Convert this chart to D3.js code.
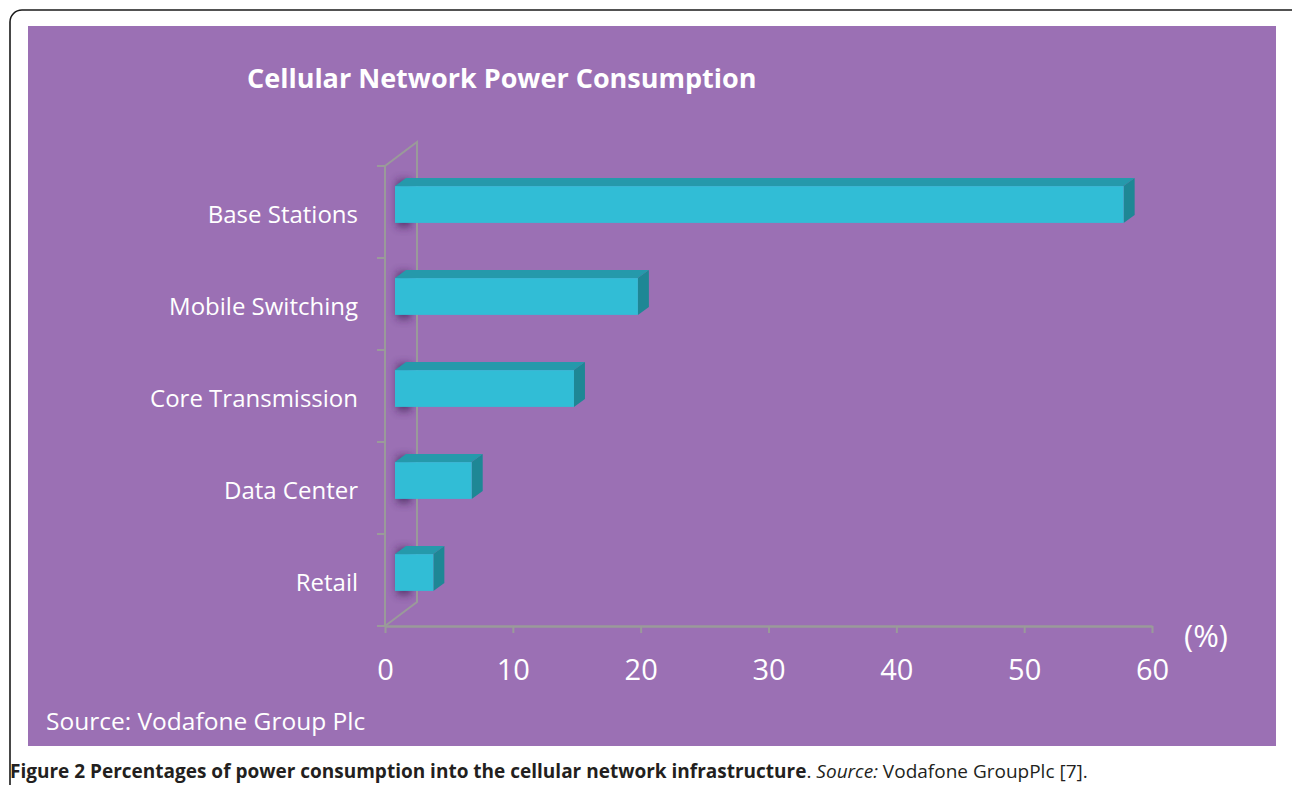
<!DOCTYPE html>
<html lang="en">
<head>
    <meta charset="UTF-8">
    <title>Cellular Network Power Consumption</title>
    <script src="https://d3js.org/d3.v7.min.js"></script>
    <style>
        body {margin:0;background:#fff;}
        svg text {font-family:"Open Sans", sans-serif;}
    </style>
</head>
<body>
    <div id="chart"></div>
    <script>
        var categories = ["Base Stations", "Mobile Switching", "Core Transmission", "Data Center", "Retail"];
        var values = [57, 19, 14, 6, 3];
        var xTicks = [0, 10, 20, 30, 40, 50, 60];

        var W = 1292, H = 785;
        var depth = {dx: 32, dy: -24};       // wall depth (front plane -> back plane)
        var barFront = {dx: 10, dy: -7.5};   // bar front face inside the depth
        var barDepth = {dx: 11, dy: -8};

        var svg = d3.select("#chart").append("svg")
            .attr("width", W).attr("height", H);

        var defs = svg.append("defs");
        defs.append("filter").attr("id", "blur")
            .attr("x", "-100%").attr("y", "-50%").attr("width", "300%").attr("height", "200%")
            .append("feGaussianBlur").attr("stdDeviation", 4);

        // frame + panel
        svg.append("rect")
            .attr("x", 10).attr("y", 10).attr("width", 1294).attr("height", 800)
            .attr("rx", 12)
            .attr("fill", "none").attr("stroke", "#1a1a1a").attr("stroke-width", 1.6);
        svg.append("rect")
            .attr("x", 28).attr("y", 26).attr("width", 1248).attr("height", 720)
            .attr("fill", "#9b70b4");

        var x = d3.scaleLinear().domain([0, 60]).range([385, 1152]);
        var y = d3.scaleBand().domain(categories).range([166, 626])
            .paddingInner(0.6).paddingOuter(0.3);
        var step = y.step();
        var y0 = 166, y1 = 626, x0 = x(0);
        var grey = "#9a9a9a";

        // back wall shadows
        svg.append("g").selectAll("rect")
            .data(values).enter().append("rect")
            .attr("x", x0 + barFront.dx + 2)
            .attr("y", (d, i) => y(categories[i]) + barFront.dy - 6)
            .attr("width", 14)
            .attr("height", y.bandwidth() + 10)
            .attr("fill", "#3c1f52")
            .attr("opacity", 0.75)
            .attr("filter", "url(#blur)");

        // side wall lines
        var wall = svg.append("g").attr("stroke", grey).attr("stroke-width", 2).attr("fill", "none");
        wall.append("path").attr("d", d3.line()([
            [x0, y1], [x0, y0], [x0 + depth.dx, y0 + depth.dy], [x0 + depth.dx, y1 + depth.dy], [x0, y1]
        ]));
        wall.selectAll("line.ct")
            .data(d3.range(categories.length + 1)).enter().append("line")
            .attr("x1", x0 - 8).attr("x2", x0)
            .attr("y1", i => y0 + i * step).attr("y2", i => y0 + i * step);

        // x axis
        var xAxis = svg.append("g")
            .attr("transform", `translate(0,${y1})`)
            .call(d3.axisBottom(x).tickValues(xTicks).tickSize(7).tickSizeOuter(0));
        xAxis.select(".domain").attr("stroke", grey).attr("stroke-width", 2.5);
        xAxis.selectAll(".tick line").attr("stroke", grey).attr("stroke-width", 2);
        xAxis.selectAll(".tick text")
            .attr("y", 54).attr("dy", 0)
            .attr("fill", "#fff")
            .style("font-family", "'Open Sans', sans-serif")
            .style("font-size", "29px");

        svg.append("text")
            .attr("x", 1206).attr("y", 647)
            .attr("text-anchor", "middle")
            .attr("fill", "#fff").style("font-size", "31px")
            .text("(%)");

        // category labels
        svg.append("g").selectAll("text")
            .data(categories).enter().append("text")
            .attr("x", 358)
            .attr("y", d => y(d) + y.bandwidth() / 2 + 3)
            .attr("dy", "0.35em")
            .attr("text-anchor", "end")
            .attr("fill", "#fff")
            .style("font-size", "24px")
            .text(d => d);

        // 3D bars
        var bars = svg.append("g").selectAll("g")
            .data(values).enter().append("g");
        function fx(v) { return x(v) + barFront.dx; }
        function fy(i) { return y(categories[i]) + barFront.dy; }
        var bh = y.bandwidth();
        // top face
        bars.append("path")
            .attr("d", (d, i) => d3.line()([
                [fx(0), fy(i)], [fx(d), fy(i)],
                [fx(d) + barDepth.dx, fy(i) + barDepth.dy],
                [fx(0) + barDepth.dx, fy(i) + barDepth.dy]
            ]) + "Z")
            .attr("fill", "#2599ab");
        // side face
        bars.append("path")
            .attr("d", (d, i) => d3.line()([
                [fx(d), fy(i)], [fx(d) + barDepth.dx, fy(i) + barDepth.dy],
                [fx(d) + barDepth.dx, fy(i) + barDepth.dy + bh],
                [fx(d), fy(i) + bh]
            ]) + "Z")
            .attr("fill", "#1e8795");
        // front face
        bars.append("rect")
            .attr("x", fx(0))
            .attr("y", (d, i) => fy(i))
            .attr("width", d => fx(d) - fx(0))
            .attr("height", bh)
            .attr("fill", "#31bdd6");

        // title and source
        svg.append("text")
            .attr("x", 247).attr("y", 88)
            .attr("fill", "#fff")
            .style("font-size", "27px").style("font-weight", "bold")
            .text("Cellular Network Power Consumption");

        svg.append("text")
            .attr("x", 46).attr("y", 730)
            .attr("fill", "#fff")
            .style("font-size", "24.5px")
            .text("Source: Vodafone Group Plc");

        // caption
        var cap = svg.append("text")
            .attr("x", 10).attr("y", 778)
            .attr("fill", "#231f20")
            .style("font-size", "19px");
        cap.append("tspan").style("font-weight", "bold")
            .text("Figure 2 Percentages of power consumption into the cellular network infrastructure");
        cap.append("tspan").text(". ");
        cap.append("tspan").style("font-style", "italic").text("Source:");
        cap.append("tspan").text(" Vodafone GroupPlc [7].");
    </script>
</body>
</html>
